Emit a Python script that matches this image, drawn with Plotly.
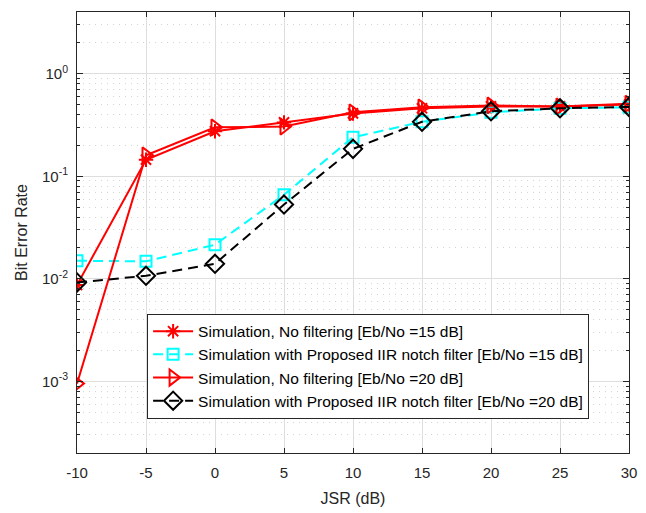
import plotly.graph_objects as go

# JSR sweep (dB)
jsr = [-10, -5, 0, 5, 10, 15, 20, 25, 30]

# Bit error rates
ber_nofilt_15 = [0.0087, 0.145, 0.275, 0.335, 0.41, 0.46, 0.48, 0.48, 0.50]
ber_iir_15 = [0.0150, 0.0148, 0.0215, 0.066, 0.240, 0.34, 0.42, 0.46, 0.47]
ber_nofilt_20 = [0.00095, 0.160, 0.300, 0.305, 0.42, 0.47, 0.49, 0.48, 0.51]
ber_iir_20 = [0.0092, 0.0107, 0.0140, 0.053, 0.185, 0.34, 0.43, 0.46, 0.475]

names = [
    "Simulation, No filtering [Eb/No =15 dB]",
    "Simulation with Proposed IIR notch filter [Eb/No =15 dB]",
    "Simulation, No filtering [Eb/No =20 dB]",
    "Simulation with Proposed IIR notch filter [Eb/No =20 dB]",
]

x_ticks = [-10, -5, 0, 5, 10, 15, 20, 25, 30]
x_tick_text = ["-10", "-5", "0", "5", "10", "15", "20", "25", "30"]
y_major = [1e-3, 1e-2, 1e-1, 1e0]
y_major_text = ["10<sup>-3</sup>", "10<sup>-2</sup>", "10<sup>-1</sup>", "10<sup>0</sup>"]
y_minor = [m * 10.0 ** e for e in range(-4, 1) for m in range(2, 10)]

fig = go.Figure()

styles = [
    (ber_nofilt_15, "red", "solid", "asterisk-open", 12),
    (ber_iir_15, "cyan", "10px,6px", "square-open", 11),
    (ber_nofilt_20, "red", "solid", "triangle-right-open", 14),
    (ber_iir_20, "black", "10px,6px", "diamond-open", 14),
]

for (vals, color, dash, sym, size), name in zip(styles, names):
    fig.add_trace(go.Scatter(
        x=jsr, y=vals, name=name, mode="lines+markers",
        line=dict(color=color, width=2, dash=dash),
        marker=dict(symbol=sym, size=size, color=color,
                    line=dict(color=color, width=2)),
    ))

axis_color = "#262626"
font_family = "Liberation Sans, Arial, sans-serif"

fig.update_layout(
    width=646, height=513,
    margin=dict(l=77, r=9, t=12, b=58),
    plot_bgcolor="white", paper_bgcolor="white",
    font=dict(family=font_family, color=axis_color, size=15),
    showlegend=True,
    legend=dict(
        x=0.127, y=0.316, xanchor="left", yanchor="top",
        bgcolor="white", bordercolor=axis_color, borderwidth=1,
        font=dict(size=15.5, color="black"),
        itemwidth=40, tracegroupgap=0,
    ),
)

fig.update_xaxes(
    range=[-10, 30], tickmode="array", tickvals=x_ticks, ticktext=x_tick_text,
    ticks="inside", ticklen=5, tickcolor=axis_color,
    showline=True, linecolor=axis_color, linewidth=1, mirror="allticks",
    showgrid=True, gridcolor="#dedede", gridwidth=1, zeroline=False,
    title=dict(text="JSR (dB)", font=dict(size=16), standoff=12),
    tickfont=dict(size=15), ticklabelstandoff=6,
)

fig.update_yaxes(
    type="log", range=[-3.699, 0.602],
    tickmode="array", tickvals=y_major, ticktext=y_major_text,
    ticks="inside", ticklen=6, tickcolor=axis_color,
    showline=True, linecolor=axis_color, linewidth=1, mirror="allticks",
    showgrid=True, gridcolor="#dedede", gridwidth=1, zeroline=False,
    minor=dict(tickmode="array", tickvals=y_minor, ticks="inside", ticklen=3,
               tickcolor=axis_color, showgrid=True, gridcolor="#d4d4d4",
               griddash="1px,5px", gridwidth=1),
    title=dict(text="Bit Error Rate", font=dict(size=16), standoff=10),
    tickfont=dict(size=15), ticklabelstandoff=5,
)

fig.write_html("out.html")
